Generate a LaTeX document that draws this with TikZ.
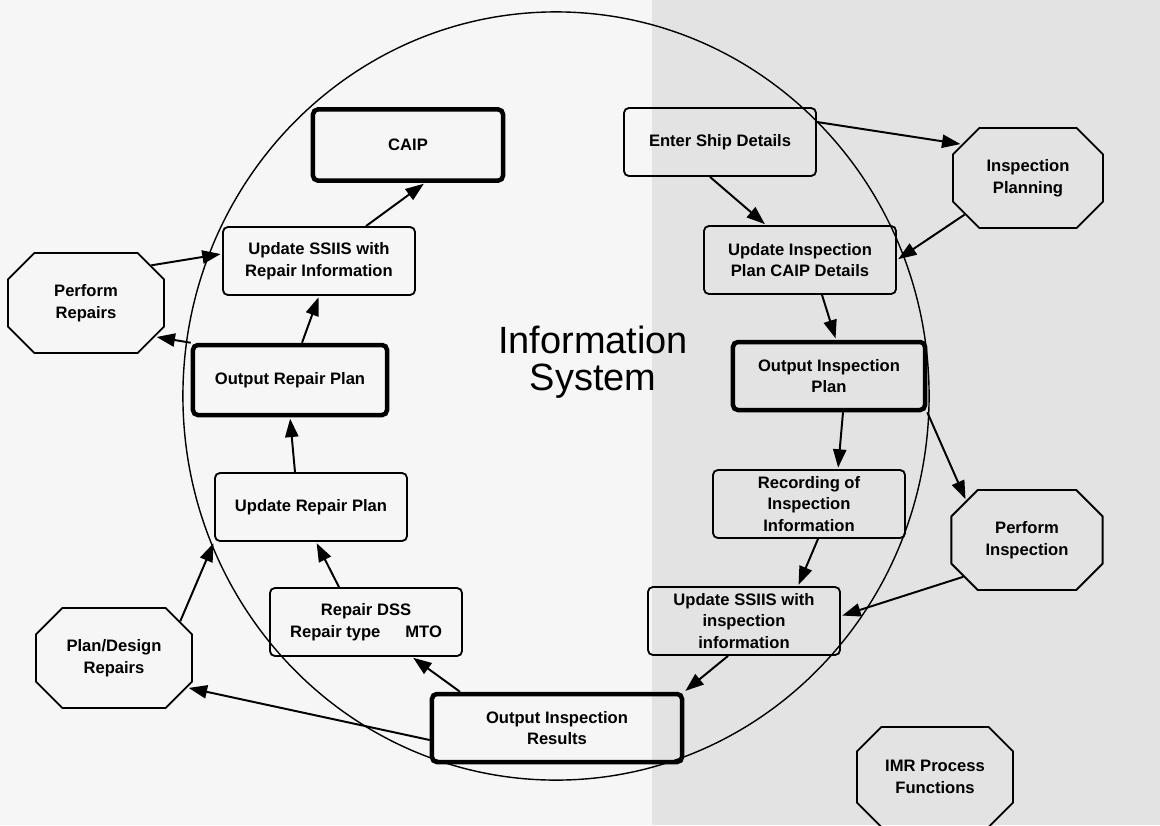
\documentclass[tikz,border=0pt]{standalone}
\usepackage{fontspec}
\setmainfont{Liberation Sans}
\usetikzlibrary{arrows.meta,shapes.misc}
\definecolor{paper}{HTML}{F6F6F6}
\definecolor{scan}{HTML}{E3E3E3}

\begin{document}
\begin{tikzpicture}[x=0.025cm,y=-0.025cm,>={Triangle[length=0.46cm,width=0.33cm]},
        shorten >=1pt,line width=1.4pt,
        box/.style={rectangle,rounded corners=3.5pt,draw,line width=1.3pt,minimum width=4.8cm,
          minimum height=1.7cm,align=center,inner sep=2pt,font=\fontsize{11.8}{15.5}\selectfont\bfseries},
        out box/.style={box,line width=3.2pt},
        proc/.style={chamfered rectangle,chamfered rectangle xsep=0.7cm,draw,line width=1.3pt,
          minimum width=3.9cm,minimum height=2.5cm,align=center,inner sep=2pt,
          font=\fontsize{11.8}{15.5}\selectfont\bfseries}]
        \fill[paper] (0,0) rectangle (1160,825);
        \fill[scan] (652,0) rectangle (1160,825);
        \useasboundingbox (0,0) rectangle (1160,825);

        \draw[line width=1pt] (556,396) ellipse [x radius=9.325cm, y radius=9.6cm];
        \node[align=center,font=\fontsize{27}{26}\selectfont] (infosys) at (593,362) {Information\\System};

        % repair side
        \node[out box,minimum width=4.75cm,minimum height=1.78cm] (caip) at (408,145) {CAIP};
        \node[box] (ssrep) at (319,261) {Update SSIIS with\\Repair Information};
        \node[proc] (prep) at (86,303) {Perform\\Repairs};
        \node[out box,minimum width=4.85cm,minimum height=1.75cm] (orp) at (290,380) {Output Repair Plan};
        \node[box] (urp) at (311,507) {Update Repair Plan};
        \node[box] (dss) at (366,622) {Repair DSS\\Repair type\hspace{1.5em}MTO};
        \node[proc] (pdr) at (114,658) {Plan/Design\\Repairs};
        \node[out box,minimum width=6.25cm] (oir) at (557,728) {Output Inspection\\Results};

        % inspection side
        \node[box] (esd) at (720,142) {Enter Ship Details};
        \node[proc,minimum width=3.75cm] (ipl) at (1028,178) {Inspection\\Planning};
        \node[box] (uip) at (800,260) {Update Inspection\\Plan CAIP Details};
        \node[out box] (oip) at (829,376) {Output Inspection\\Plan};
        \node[box] (rec) at (809,504) {Recording of\\Inspection\\Information};
        \node[proc,minimum width=3.78cm] (pin) at (1027,540) {Perform\\Inspection};
        \node[box] (ssins) at (744,621) {Update SSIIS with\\inspection\\information};
        \node[proc] (imr) at (935,777) {IMR Process\\Functions};

        \path[->]
        ([xshift=1.175cm]ssrep.north) edge ([xshift=0.425cm]caip.south)
        ([xshift=0.3cm]orp.north) edge (ssrep.south)
        (prep.30) edge ([yshift=0.18cm]ssrep.west)
        (orp.north west) edge (prep.-26)
        ([xshift=-0.4cm]urp.north) edge (orp.south)
        ([xshift=-0.675cm]dss.north) edge ([xshift=0.125cm]urp.south)
        (pdr.29) edge (urp.south west)
        ([xshift=-2.425cm]oir.north) edge ([xshift=1.15cm]dss.south)
        ([yshift=-0.3cm]oir.west) edge (pdr.-22)
        ([yshift=0.5cm]esd.east) edge (ipl.153)
        ([xshift=-0.25cm]esd.south) edge ([xshift=-0.85cm]uip.north)
        (ipl.210) edge (uip.east)
        ([xshift=0.55cm]uip.south) edge ([xshift=0.175cm]oip.north)
        ([xshift=0.35cm]oip.south) edge ([xshift=0.725cm]rec.north)
        (oip.south east) edge (pin.147)
        ([xshift=0.225cm]rec.south) edge ([xshift=1.35cm]ssins.north)
        (pin.210) edge ([yshift=0.125cm]ssins.east)
        ([xshift=-0.4cm]ssins.south) edge (oir.north east)
        ;
\end{tikzpicture}
\end{document}
